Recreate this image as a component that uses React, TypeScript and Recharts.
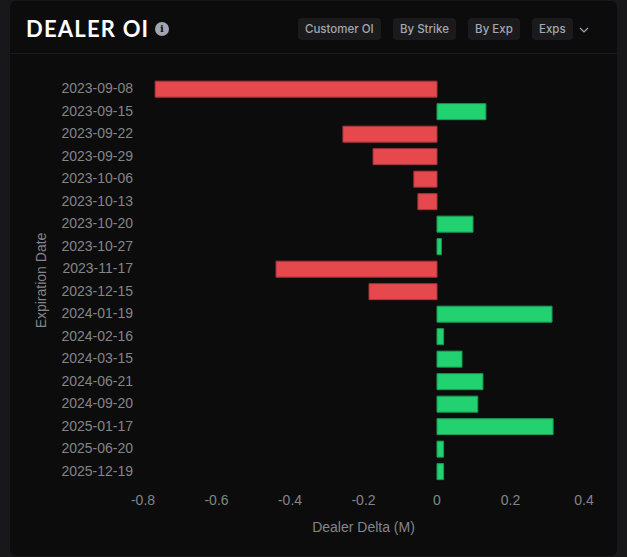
import { Bar, BarChart, Cell, XAxis, YAxis } from "recharts"

const expirations = [
  "2023-09-08", "2023-09-15", "2023-09-22", "2023-09-29", "2023-10-06", "2023-10-13",
  "2023-10-20", "2023-10-27", "2023-11-17", "2023-12-15", "2024-01-19", "2024-02-16",
  "2024-03-15", "2024-06-21", "2024-09-20", "2025-01-17", "2025-06-20", "2025-12-19",
]
const dealerDelta = [
  -0.767, 0.133, -0.256, -0.174, -0.063, -0.052, 0.098, 0.012, -0.438, -0.185, 0.313, 0.018,
  0.068, 0.125, 0.111, 0.316, 0.018, 0.018,
]
const xTicks = [-0.8, -0.6, -0.4, -0.2, 0, 0.2, 0.4]
const buttons = ["Customer OI", "By Strike", "By Exp", "Exps"]

const data = expirations.map((date, i) => ({ date, delta: dealerDelta[i] }))

const RED = "#e5484d"
const RED_EDGE = "#a5363a"
const GREEN = "#22d16f"
const GREEN_EDGE = "#1a9a54"
const AXIS_TEXT = "#858588"
const sans = "Inter, sans-serif"
const chartFont = "'Liberation Sans', Arial, sans-serif"

export default function App() {
  return (
    <div style={{ position: "fixed", inset: 0, background: "#18181a", overflow: "hidden" }}>
      <div
        style={{
          position: "absolute", left: 10, top: 1, width: 607, height: 555,
          background: "#0c0c0d", borderRadius: 6,
        }}
      >
        <div
          style={{
            position: "absolute", left: 16, top: 12, color: "#fff", fontFamily: "Lato, sans-serif",
            fontSize: 22, fontWeight: 700, letterSpacing: 1.2, lineHeight: "32px", whiteSpace: "nowrap",
          }}
        >
          DEALER OI
        </div>
        <div
          style={{
            position: "absolute", left: 145, top: 21, width: 14, height: 14, borderRadius: 7,
            background: "#a1a5ad", color: "#111", fontFamily: "'DejaVu Serif', serif", fontSize: 10,
            fontWeight: 700, lineHeight: "14px", textAlign: "center",
          }}
        >
          i
        </div>
        <div style={{ position: "absolute", left: 288, top: 17, display: "flex", gap: 12.2 }}>
          {buttons.map((b) => (
            <div
              key={b}
              style={{
                background: "#1b1b1e", color: "#a6a6ac", fontFamily: sans, fontSize: 11.5, fontWeight: 500,
                height: 22, lineHeight: "22px", padding: "0 7px", borderRadius: 4, whiteSpace: "nowrap",
              }}
            >
              {b}
            </div>
          ))}
        </div>
        <svg style={{ position: "absolute", left: 568, top: 24 }} width={12} height={10}>
          <path d="M2 3 L6 7 L10 3" fill="none" stroke="#a6a6ac" strokeWidth={1.2} />
        </svg>
        <div style={{ position: "absolute", left: 0, right: 0, top: 52, height: 1, background: "#19191b" }} />
      </div>
      <div style={{ position: "absolute", left: 0, top: 0 }}>
        <BarChart
          width={627}
          height={557}
          data={data}
          layout="vertical"
          margin={{ top: 78, right: 43, bottom: 25, left: 30 }}
          barCategoryGap="14%"
        >
          <XAxis
            type="number"
            domain={[-0.8, 0.4]}
            ticks={xTicks}
            tickFormatter={(v) => String(v)}
            axisLine={false}
            tickLine={false}
            tick={{ fill: AXIS_TEXT, fontSize: 14, fontFamily: chartFont }}
            tickMargin={6}
            height={49}
            label={{ value: "Dealer Delta (M)", position: "insideBottom", offset: 0, fill: AXIS_TEXT, fontSize: 14, fontFamily: chartFont }}
          />
          <YAxis
            type="category"
            dataKey="date"
            interval={0}
            axisLine={false}
            tickLine={false}
            tick={{ fill: AXIS_TEXT, fontSize: 14, fontFamily: chartFont, dy: -1 }}
            tickMargin={4}
            width={113}
            label={{ value: "Expiration Date", angle: -90, position: "insideLeft", offset: 11, fill: AXIS_TEXT, fontSize: 14, fontFamily: chartFont, style: { textAnchor: "middle" } }}
          />
          <Bar dataKey="delta" isAnimationActive={false}>
            {data.map((d) => (
              <Cell key={d.date} fill={d.delta < 0 ? RED : GREEN} stroke={d.delta < 0 ? RED_EDGE : GREEN_EDGE} />
            ))}
          </Bar>
        </BarChart>
      </div>
    </div>
  )
}
